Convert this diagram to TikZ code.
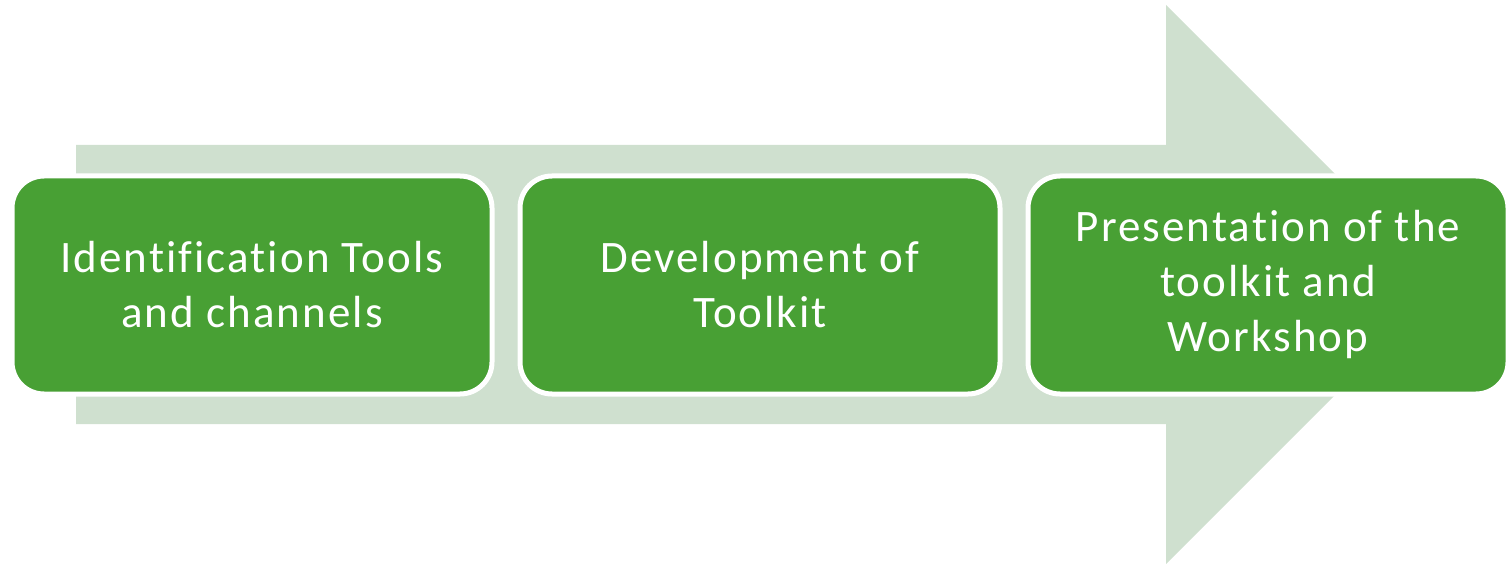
\documentclass[tikz,border=0pt]{standalone}
\usepackage{fontspec}
\setmainfont{Carlito}[Ligatures=NoCommon,LetterSpace=4.6]
\definecolor{boxgreen}{HTML}{48A034}
\definecolor{arrowgreen}{HTML}{CFE0CF}
\tikzset{
  stepbox/.style={draw=white, line width=5pt, fill=boxgreen, rounded corners=32pt,
    minimum width=480pt, minimum height=218pt, text=white, align=center,
    font=\fontsize{45}{55}\selectfont, inner sep=0pt}
}
\begin{document}
\begin{tikzpicture}[x=1pt,y=-1pt]
\useasboundingbox (0,0) rectangle (1507,564);
\fill[arrowgreen] (76,145) -- (1166,145) -- (1166,5) -- (1445.5,284.5) -- (1166,564) -- (1166,424) -- (76,424) -- cycle;
\node[stepbox] (b1) at (252,285) {Identification Tools\\and channels};
\node[stepbox] (b2) at (760,285) {Development of\\Toolkit};
\node[stepbox] (b3) at (1268,285) {Presentation of the\\toolkit and\\Workshop};
\end{tikzpicture}
\end{document}
